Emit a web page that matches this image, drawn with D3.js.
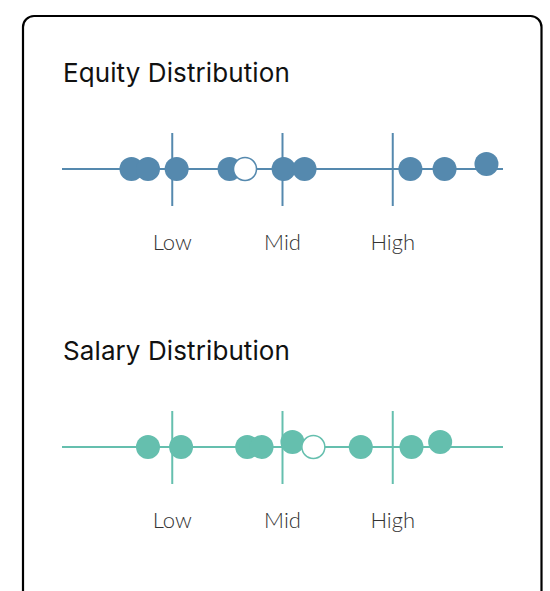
<!DOCTYPE html>
<html>
<head>
<meta charset="utf-8">
<script src="https://cdn.jsdelivr.net/npm/d3@7"></script>
<style>
  html, body { margin: 0; padding: 0; background: #fff; overflow: hidden; }
</style>
</head>
<body>
<script>
'use strict';

// tick categories on the shared scale
const tickLabels = ["Low", "Mid", "High"];
const tickValues = [1, 2, 3];

// equity: peer values, small vertical jitter, and the highlighted value
const equityValues = [0.63, 0.78, 1.04, 1.52, 2.01, 2.20, 3.16, 3.47, 3.85];
const equityJitter = [0, 0, 0, 0, 0, 0, 0, 0, 1];
const equityYou = 1.66;

// salary: same layout
const salaryValues = [0.78, 1.08, 1.68, 1.81, 2.09, 2.71, 3.17, 3.43];
const salaryJitter = [0, 0, 0, 0, 1, 0, 0, 1];
const salaryYou = 2.28;

const width = 550;
const height = 591;

const svg = d3.select('body')
  .append('svg')
  .attr('width', width)
  .attr('height', height);

// card outline (runs past the bottom of the window)
svg.append('rect')
  .attr('x', 23)
  .attr('y', 16)
  .attr('width', 518.5)
  .attr('height', 700)
  .attr('rx', 11)
  .attr('fill', '#fff')
  .attr('stroke', '#000')
  .attr('stroke-width', 2.2);

const xScale = d3.scaleLinear()
  .domain([0, 4])
  .range([62, 503]);

// jitter lifts a dot a few px above the line
const jScale = d3.scaleLinear()
  .domain([0, 1])
  .range([0, -5]);

function makeStrip(title, values, jitter, you, color, top) {
  const g = svg.append('g')
    .attr('transform', 'translate(0,' + top + ')');

  g.append('text')
    .attr('x', 63)
    .attr('y', 0)
    .style('font-family', 'Inter, "Noto Sans", sans-serif')
    .style('font-size', '26px')
    .style('letter-spacing', '0.1px')
    .style('fill', '#111')
    .text(title);

  const lineY = 87;

  // base line
  g.append('line')
    .attr('x1', xScale.range()[0])
    .attr('x2', xScale.range()[1])
    .attr('y1', lineY)
    .attr('y2', lineY)
    .attr('stroke', color)
    .attr('stroke-width', 2);

  // tick lines cross the base line
  g.selectAll('line.tick')
    .data(tickValues)
    .enter()
    .append('line')
      .attr('class', 'tick')
      .attr('x1', (d) => xScale(d))
      .attr('x2', (d) => xScale(d))
      .attr('y1', lineY - 36)
      .attr('y2', lineY + 37)
      .attr('stroke', color)
      .attr('stroke-width', 2);

  // tick labels
  g.selectAll('text.lbl')
    .data(tickLabels)
    .enter()
    .append('text')
      .attr('class', 'lbl')
      .attr('x', (d, i) => xScale(tickValues[i]))
      .attr('y', lineY + 81)
      .style('text-anchor', 'middle')
      .style('font-family', 'Lato, "Open Sans", sans-serif')
      .style('font-weight', 300)
      .style('font-size', '22px')
      .style('fill', '#333')
      .text((d) => d);

  // peer dots
  g.selectAll('circle.peer')
    .data(values)
    .enter()
    .append('circle')
      .attr('class', 'peer')
      .attr('cx', (d) => xScale(d))
      .attr('cy', (d, i) => lineY + jScale(jitter[i]))
      .attr('r', 12)
      .attr('fill', color);

  // highlighted (hollow) dot on top
  g.append('circle')
    .attr('cx', xScale(you))
    .attr('cy', lineY)
    .attr('r', 11.5)
    .attr('fill', '#fff')
    .attr('stroke', color)
    .attr('stroke-width', 1.5);
}

makeStrip('Equity Distribution', equityValues, equityJitter, equityYou, '#5589ae', 82);
makeStrip('Salary Distribution', salaryValues, salaryJitter, salaryYou, '#65bfae', 360);
</script>
</body>
</html>
